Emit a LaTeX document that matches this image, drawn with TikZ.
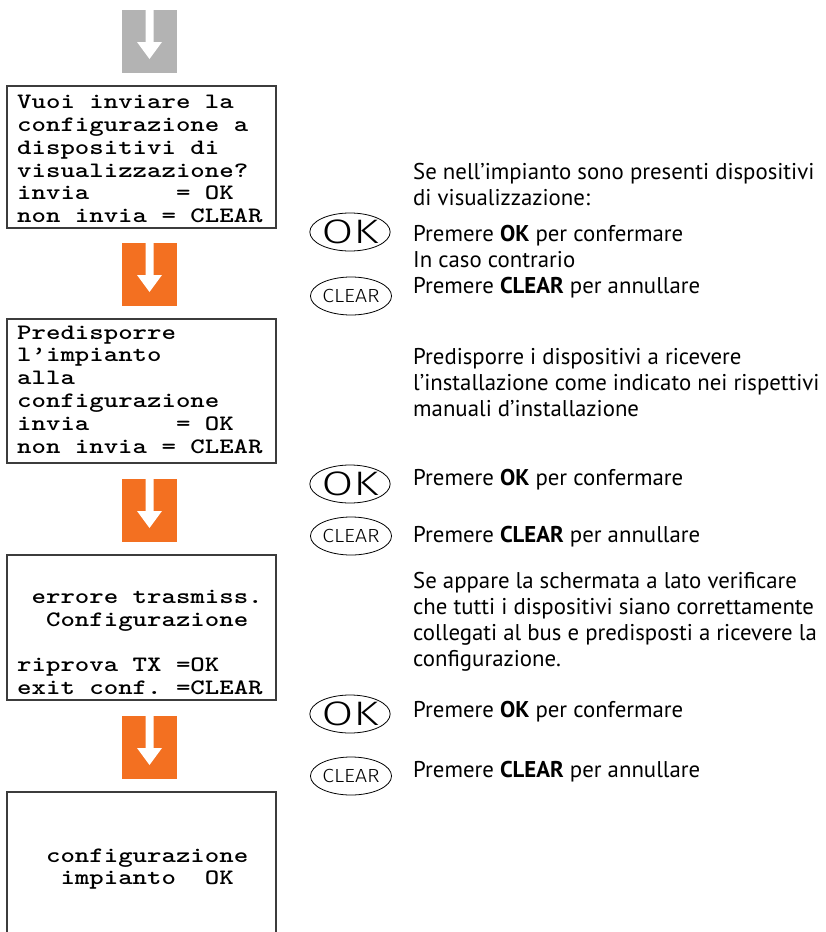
\documentclass[tikz,border=0pt]{standalone}
\usepackage{fontspec}
\usepackage{graphicx}
\setsansfont{PT Sans}
\newfontfamily\tastenfont{Fira Sans Light}
\newfontfamily\lcdfont{lmmonolt10-bold.otf}[FakeStretch=1.25]
\definecolor{orangearrow}{RGB}{243,112,33}
\definecolor{grayarrow}{RGB}{179,179,179}
\definecolor{boxline}{RGB}{60,60,60}
\usetikzlibrary{shapes.geometric,positioning}
\newcommand\okglyph{\scalebox{1.35}[1]{OK}}
\newcommand\clearglyph{\scalebox{1.12}[1]{CLEAR}}

\begin{document}
\begin{tikzpicture}[x=1pt, y=-1pt,
		pfeil/.style={rectangle, fill=orangearrow, minimum width=55pt, minimum height=63pt, inner sep=0pt, outer sep=0pt, anchor=north west},
		anzeige/.style={draw=boxline, line width=1.2pt, minimum width=269pt, inner sep=0pt, outer sep=0pt, anchor=north west},
		lcd/.style={font=\lcdfont\fontsize{22}{22.8}\selectfont\frenchspacing, align=left, anchor=west, inner sep=0pt},
		hinweis/.style={font=\sffamily\fontsize{22.8}{26}\selectfont, align=left, anchor=west, inner sep=0pt},
		taste/.style={draw, ellipse, line width=0.8pt, minimum width=75pt, minimum height=38pt, inner sep=0pt},
		okkey/.style={taste, font=\tastenfont\fontsize{34}{34}\selectfont},
		clearkey/.style={taste, font=\tastenfont\fontsize{19}{19}\selectfont}]
	%Bildbereich
	\useasboundingbox (0,0) rectangle (825,932);
	\clip (0,0) rectangle (825,932);
	% Pfeile
	\node[pfeil, fill=grayarrow] (p0) at (122,10) {};
	\foreach \y/\n in {243/1, 479/2, 716/3} \node[pfeil] (p\n) at (122,\y) {};
	\foreach \n in {0,...,3}
		\fill[white, shift={(p\n.north)}] (-4,0) -- (4,0) -- (4,32) -- (12.5,32) -- (0,49) -- (-12.5,32) -- (-4,32) -- cycle;
	% Anzeigen
	\node[anzeige, minimum height=142pt] (s1) at (7,86) {};
	\node[anzeige, minimum height=144pt] (s2) at (7,319) {};
	\node[anzeige, minimum height=145pt] (s3) at (7,555) {};
	\node[anzeige, minimum height=160pt] (s4) at (7,792) {};
	\node[lcd] (t1) at (17,159) {Vuoi inviare la\\configurazione a\\dispositivi di\\visualizzazione?\\invia~~~~~~=~OK\\non invia = CLEAR};
	\node[lcd] (t2) at (17,389.5) {Predisporre\\l’impianto\\alla\\configurazione\\invia~~~~~~=~OK\\non invia = CLEAR};
	\node[lcd] (t3) at (17,642.5) {\phantom{x}errore trasmiss.\\\phantom{xx}Configurazione\\\mbox{}\\riprova TX =OK\\exit conf. =CLEAR};
	\node[lcd] (t4) at (17,869) {\phantom{xx}configurazione\\\phantom{xxx}impianto~~OK};
	% Tasten
	\foreach \n/\yo/\yc in {1/232/296, 2/484/536, 3/714/776} {
		\node[okkey] (k\n) at (350,\yo) {\okglyph};
		\node[clearkey] (c\n) at (351,\yc) {\clearglyph};
	}
	% Hinweise
	\node[hinweis] (h1) at (413,185) {Se nell’impianto sono presenti dispositivi\\di visualizzazione:};
	\node[hinweis] (h2) at (413,262) {Premere \textbf{OK} per confermare\\In caso contrario\\Premere \textbf{CLEAR} per annullare};
	\node[hinweis] (h3) at (413,383) {Predisporre i dispositivi a ricevere\\l’installazione come indicato nei rispettivi\\manuali d’installazione};
	\node[hinweis] (h4) at (413,480) {Premere \textbf{OK} per confermare};
	\node[hinweis] (h5) at (413,537) {Premere \textbf{CLEAR} per annullare};
	\node[hinweis] (h6) at (413,622) {Se appare la schermata a lato verificare\\che tutti i dispositivi siano correttamente\\collegati al bus e predisposti a ricevere la\\configurazione.};
	\node[hinweis] (h7) at (413,712) {Premere \textbf{OK} per confermare};
	\node[hinweis] (h8) at (413,772) {Premere \textbf{CLEAR} per annullare};
\end{tikzpicture}
\end{document}
